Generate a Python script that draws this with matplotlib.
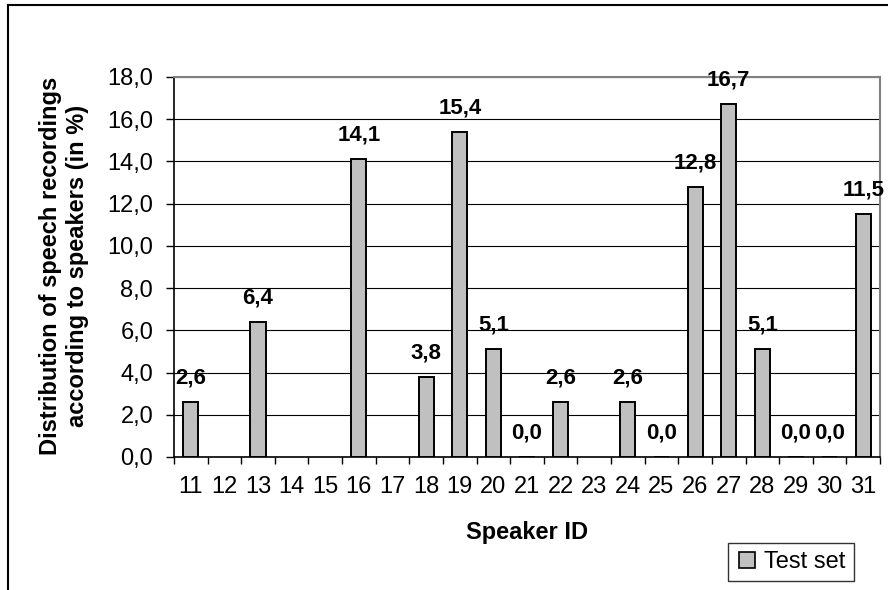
import matplotlib
matplotlib.use("Agg")
import matplotlib.pyplot as plt
import numpy as np
from matplotlib.lines import Line2D

plt.rcParams["font.family"] = ["Liberation Sans", "DejaVu Sans"]

speakers = [str(s) for s in range(11, 32)]
# None = speaker not present in the test set (no bar, no label)
test_share = [2.6, None, 6.4, None, None, 14.1, None, 3.8, 15.4, 5.1, 0.0,
              2.6, None, 2.6, 0.0, 12.8, 16.7, 5.1, 0.0, 0.0, 11.5]
y_ticks = [0, 2, 4, 6, 8, 10, 12, 14, 16, 18]

fig = plt.figure(figsize=(8.88, 5.90), dpi=100)
ax = fig.add_axes([174 / 888, 1 - 457 / 590, (880 - 174) / 888, (457 - 77) / 590])

x = np.arange(len(speakers))
vals = np.array([np.nan if v is None else v for v in test_share])
bars = ax.bar(x, np.nan_to_num(vals), width=0.45, color="#C0C0C0",
              edgecolor="black", linewidth=1.4, label="Test set", zorder=3)
for b, v in zip(bars, test_share):
    if v is None:
        b.set_visible(False)
        continue
    ax.annotate(f"{v:.1f}".replace(".", ","), (b.get_x() + b.get_width() / 2, v),
                xytext=(0, 13.5), textcoords="offset points", ha="center", va="baseline",
                fontsize=16, fontweight="bold")

ax.set_xlim(-0.5, len(speakers) - 0.5)
ax.set_ylim(0, 18)
ax.set_yticks(y_ticks)
ax.set_yticklabels([f"{t:.1f}".replace(".", ",") for t in y_ticks], fontsize=17)
ax.set_xticks(x)
ax.set_xticklabels(speakers, fontsize=17)
ax.set_xticks(np.arange(-0.5, len(speakers)), minor=True)
ax.tick_params(axis="x", which="major", length=0, pad=14)
ax.tick_params(axis="x", which="minor", length=5, width=1, direction="out")
ax.tick_params(axis="y", length=6, width=1, pad=9)

ax.yaxis.grid(True, color="black", linewidth=0.8, zorder=0)
ax.set_axisbelow(True)
for side in ("top", "right"):
    ax.spines[side].set_color("#808080")
    ax.spines[side].set_linewidth(1.5)
for side in ("left", "bottom"):
    ax.spines[side].set_linewidth(1.2)

fig.text(527 / 888, 1 - 532 / 590, "Speaker ID", ha="center", va="center",
         fontsize=17, fontweight="bold")
fig.text(64 / 888, 1 - 266 / 590,
         "Distribution of speech recordings\naccording to speakers (in %)",
         rotation=90, ha="center", va="center", fontsize=17, fontweight="bold",
         linespacing=1.2)

handle = Line2D([], [], marker="s", linestyle="none", markersize=11,
                markerfacecolor="#C0C0C0", markeredgecolor="black", markeredgewidth=1.2)
leg = fig.legend([handle], ["Test set"], loc="center",
                 bbox_to_anchor=(791 / 888, 1 - 562 / 590), fontsize=17,
                 fancybox=False, frameon=True, handletextpad=0.3,
                 borderpad=0.35, handlelength=0.9, borderaxespad=0)
leg.get_frame().set_edgecolor("black")
leg.get_frame().set_linewidth(1.0)

# outer chart frame (cropped on right/bottom)
fig.add_artist(Line2D([8 / 888, 1.0], [1 - 5 / 590, 1 - 5 / 590], color="black",
                      linewidth=1.5, transform=fig.transFigure))
fig.add_artist(Line2D([8 / 888, 8 / 888], [1 - 5 / 590, 0.0], color="black",
                      linewidth=1.5, transform=fig.transFigure))

fig.savefig("out.png", dpi=100)
